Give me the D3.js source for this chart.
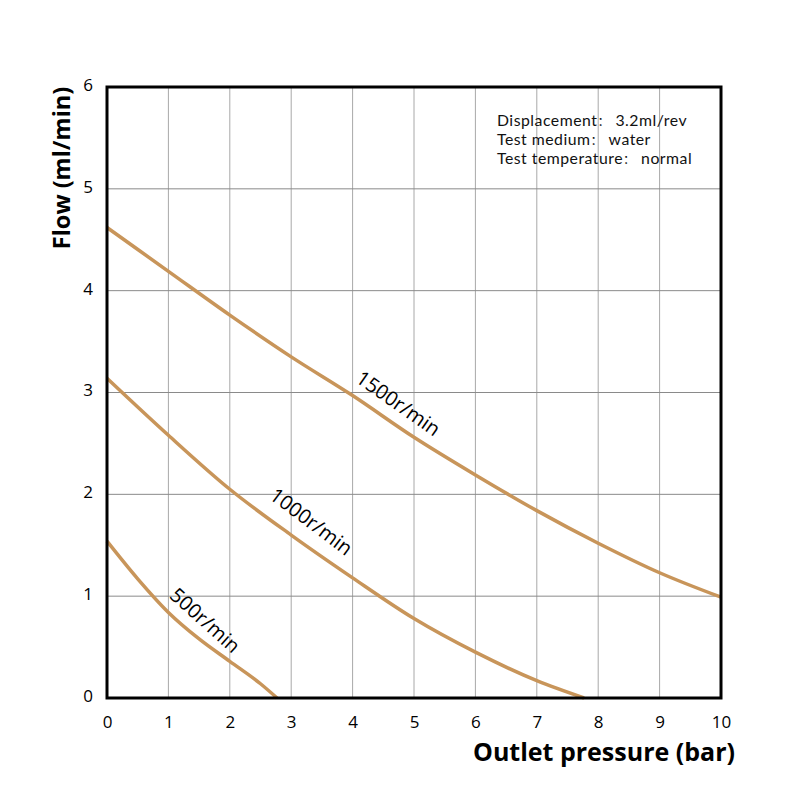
<!DOCTYPE html>
<html><head><meta charset="utf-8">
<script src="https://cdn.jsdelivr.net/npm/d3@7"></script>
<style>body{margin:0;background:#fff}</style>
</head><body>
<svg id="c" width="800" height="800"></svg>
<script>
const xTicks = [0,1,2,3,4,5,6,7,8,9,10];
const yTicks = [0,1,2,3,4,5,6];
const pressure1500 = [0,1,2,3,4,5,6,7,8,9,10];
const flow1500 = [4.62,4.19,3.76,3.35,2.97,2.56,2.19,1.84,1.52,1.23,0.99];
const pressure1000 = [0,1,2,3,4,5,6,7,7.77];
const flow1000 = [3.14,2.58,2.05,1.60,1.18,0.78,0.45,0.17,0];
const pressure500 = [0,0.5,1,1.5,2,2.5,2.77];
const flow500 = [1.54,1.17,0.84,0.58,0.36,0.14,0];
const seriesNames = ["1500r/min","1000r/min","500r/min"];
const labelPos = [[4.73,2.88,35],[3.31,1.72,37],[1.58,0.75,42]];
const noteKeys = ["Displacement","Test medium","Test temperature"];
const noteVals = ["3.2ml/rev","water","normal"];

const svg = d3.select("#c");
const L=107,R=721,T=87,B=698;
const x = d3.scaleLinear().domain([0,10]).range([L,R]);
const y = d3.scaleLinear().domain([0,6]).range([B,T]);
const font = "'Open Sans','Noto Sans',sans-serif";

// grid
svg.append("g").selectAll("line").data(xTicks.slice(1,-1)).join("line")
  .attr("x1",d=>x(d)).attr("x2",d=>x(d)).attr("y1",T).attr("y2",B)
  .attr("stroke","#a8a8a8").attr("stroke-width",1);
svg.append("g").selectAll("line").data(yTicks.slice(1,-1)).join("line")
  .attr("x1",L).attr("x2",R).attr("y1",d=>y(d)).attr("y2",d=>y(d))
  .attr("stroke","#8a8a8a").attr("stroke-width",1);

// curves
const line = d3.line().x(d=>x(d[0])).y(d=>y(d[1])).curve(d3.curveMonotoneX);
const series = [d3.zip(pressure1500,flow1500), d3.zip(pressure1000,flow1000), d3.zip(pressure500,flow500)];
svg.append("g").selectAll("path").data(series).join("path")
  .attr("d",line).attr("fill","none").attr("stroke","#C8955A").attr("stroke-width",3.5);

// border
svg.append("rect").attr("x",L).attr("y",T).attr("width",R-L).attr("height",B-T)
  .attr("fill","none").attr("stroke","#000").attr("stroke-width",3);

// axes tick labels
const xa = d3.axisBottom(x).tickValues(xTicks).tickFormat(d3.format("d")).tickSize(0).tickPadding(18);
const gx = svg.append("g").attr("transform",`translate(0,${B})`).call(xa);
gx.select(".domain").remove();
gx.selectAll("text").attr("font-family",font).attr("font-size",17).attr("fill","#000");
const ya = d3.axisLeft(y).tickValues(yTicks).tickFormat(d3.format("d")).tickSize(0).tickPadding(14);
const gy = svg.append("g").attr("transform",`translate(${L},0)`).call(ya);
gy.select(".domain").remove();
gy.selectAll("text").attr("font-family",font).attr("font-size",17).attr("fill","#000").attr("dy","0.2em");

// axis titles
svg.append("text").attr("x",604).attr("y",761).attr("text-anchor","middle")
  .attr("font-family",font).attr("font-weight","bold").attr("font-size",25).text("Outlet pressure (bar)");
svg.append("text").attr("transform","translate(70,168) rotate(-90)").attr("text-anchor","middle")
  .attr("font-family",font).attr("font-weight","bold").attr("font-size",23.5).text("Flow (ml/min)");

// curve labels
svg.append("g").selectAll("text").data(seriesNames).join("text")
  .attr("transform",(d,i)=>`translate(${x(labelPos[i][0])},${y(labelPos[i][1])}) rotate(${labelPos[i][2]})`)
  .attr("text-anchor","middle").attr("dominant-baseline","middle")
  .attr("font-family",font).attr("font-size",20).text(d=>d);

// notes
const nt = svg.append("g").selectAll("text").data(noteKeys).join("text")
  .attr("x",497).attr("y",(d,i)=>126+i*19.2)
  .attr("font-family","Lato,sans-serif").attr("font-size",15.8).attr("letter-spacing",0.5).attr("fill","#111");
nt.append("tspan").text(d=>d);
nt.append("tspan").attr("font-family","'Noto Sans CJK SC'").attr("font-size",12.5).text("：");
nt.append("tspan").attr("dx",5).text((d,i)=>noteVals[i]);
</script>
</body></html>
